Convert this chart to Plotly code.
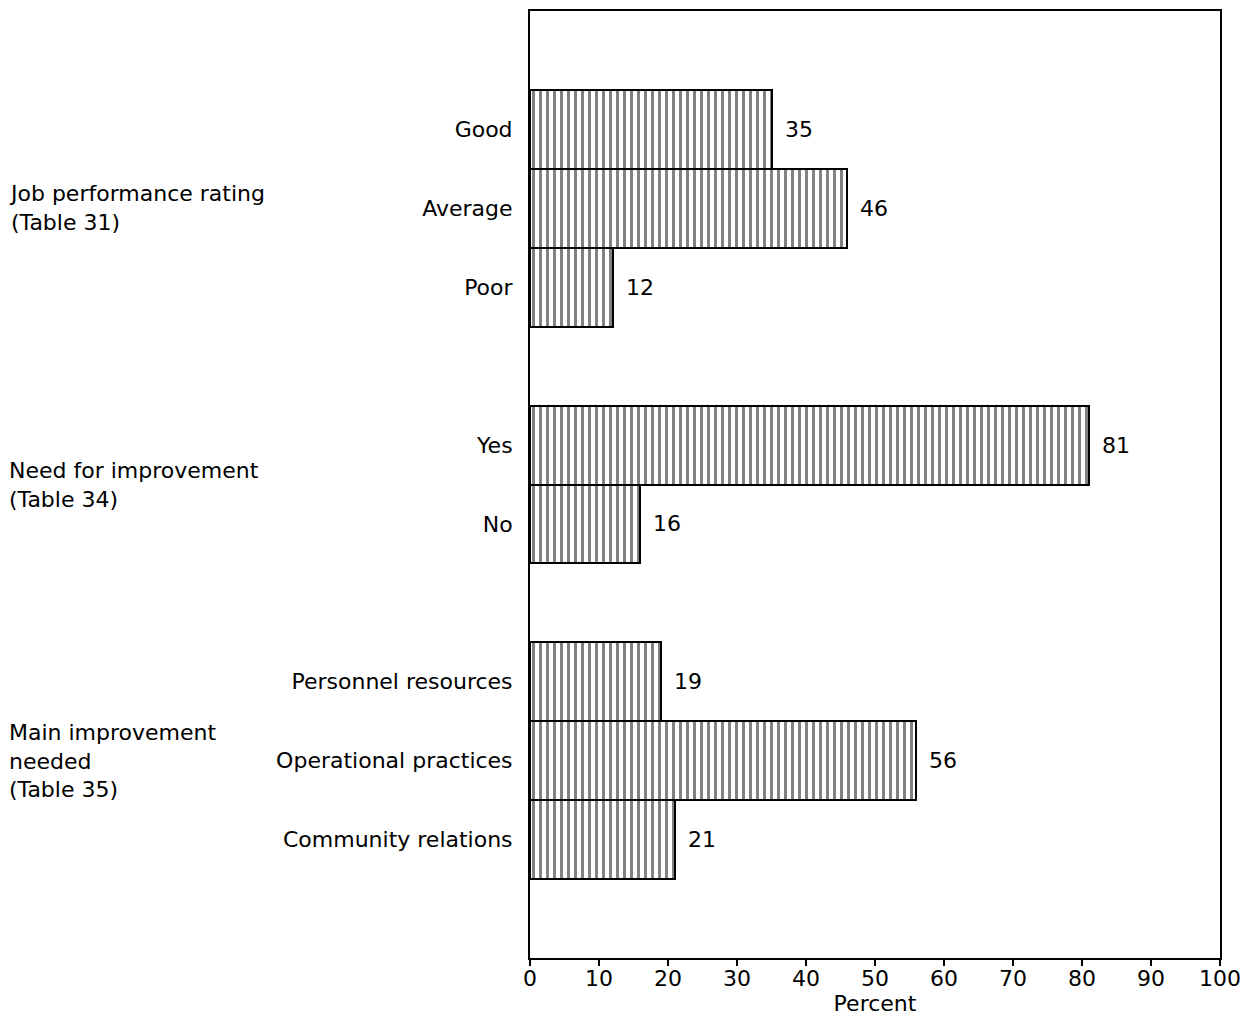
import plotly.graph_objects as go

# ---- data ----
group_labels = [
    "Job performance rating<br>(Table 31)",
    "Need for improvement<br>(Table 34)",
    "Main improvement<br>needed<br>(Table 35)",
]
job_categories = ["Good", "Average", "Poor"]
job_values = [35, 46, 12]
need_categories = ["Yes", "No"]
need_values = [81, 16]
main_categories = ["Personnel resources", "Operational practices", "Community relations"]
main_values = [19, 56, 21]
x_ticks = [0, 10, 20, 30, 40, 50, 60, 70, 80, 90, 100]
x_title = "Percent"

groups = [
    (group_labels[0], job_categories, job_values),
    (group_labels[1], need_categories, need_values),
    (group_labels[2], main_categories, main_values),
]

# ---- layout of rows (one empty slot between groups) ----
cats, vals, pos, group_pos = [], [], [], []
p = 1.5
for gi, (gl, cs, vs) in enumerate(groups):
    ps = []
    for c, v in zip(cs, vs):
        cats.append(c)
        vals.append(v)
        pos.append(p)
        ps.append(p)
        p += 1
    group_pos.append(sum(ps) / len(ps))
    p += 1

FONT = "DejaVu Sans"
FS = 22

fig = go.Figure()
fig.add_trace(go.Bar(
    x=vals, y=pos, orientation="h", width=1.0,
    marker=dict(
        color="white",
        line=dict(color="black", width=2),
        pattern=dict(shape="|", fgcolor="black", bgcolor="white", size=7, solidity=0.42),
    ),
    hoverinfo="skip", showlegend=False,
))

annotations = []
for v, y in zip(vals, pos):
    annotations.append(dict(
        x=v, y=y, xref="x", yref="y", text=str(v), showarrow=False,
        xanchor="left", yanchor="middle", xshift=11,
        font=dict(family=FONT, size=FS, color="black"),
    ))
for gl, gy in zip(group_labels, group_pos):
    annotations.append(dict(
        x=-0.758, y=gy, xref="paper", yref="y", text=gl, showarrow=False,
        xanchor="left", yanchor="middle", align="left",
        font=dict(family=FONT, size=FS, color="black"),
    ))

fig.update_layout(
    width=1243, height=1019,
    margin=dict(l=530, r=23, t=11, b=61, pad=0),
    paper_bgcolor="white", plot_bgcolor="white",
    font=dict(family=FONT, size=FS, color="black"),
    annotations=annotations,
    bargap=0,
)
fig.update_xaxes(
    range=[0, 100], tickvals=x_ticks, ticktext=[str(t) for t in x_ticks],
    ticks="outside", ticklen=6, tickwidth=2, tickcolor="black",
    ticklabelstandoff=-6,
    showline=True, linewidth=2, linecolor="black", mirror=True,
    showgrid=False, zeroline=False, automargin=False,
    title=dict(text=x_title, standoff=4, font=dict(family=FONT, size=FS)),
    tickfont=dict(family=FONT, size=FS),
)
fig.update_yaxes(
    range=[12, 0], tickvals=pos, ticktext=cats,
    ticks="", ticklabelstandoff=11,
    showline=True, linewidth=2, linecolor="black", mirror=True,
    showgrid=False, zeroline=False, automargin=False,
    tickfont=dict(family=FONT, size=FS),
)

fig.write_html("out.html", config={"displayModeBar": False},
               post_script="document.body.style.margin='0';")
